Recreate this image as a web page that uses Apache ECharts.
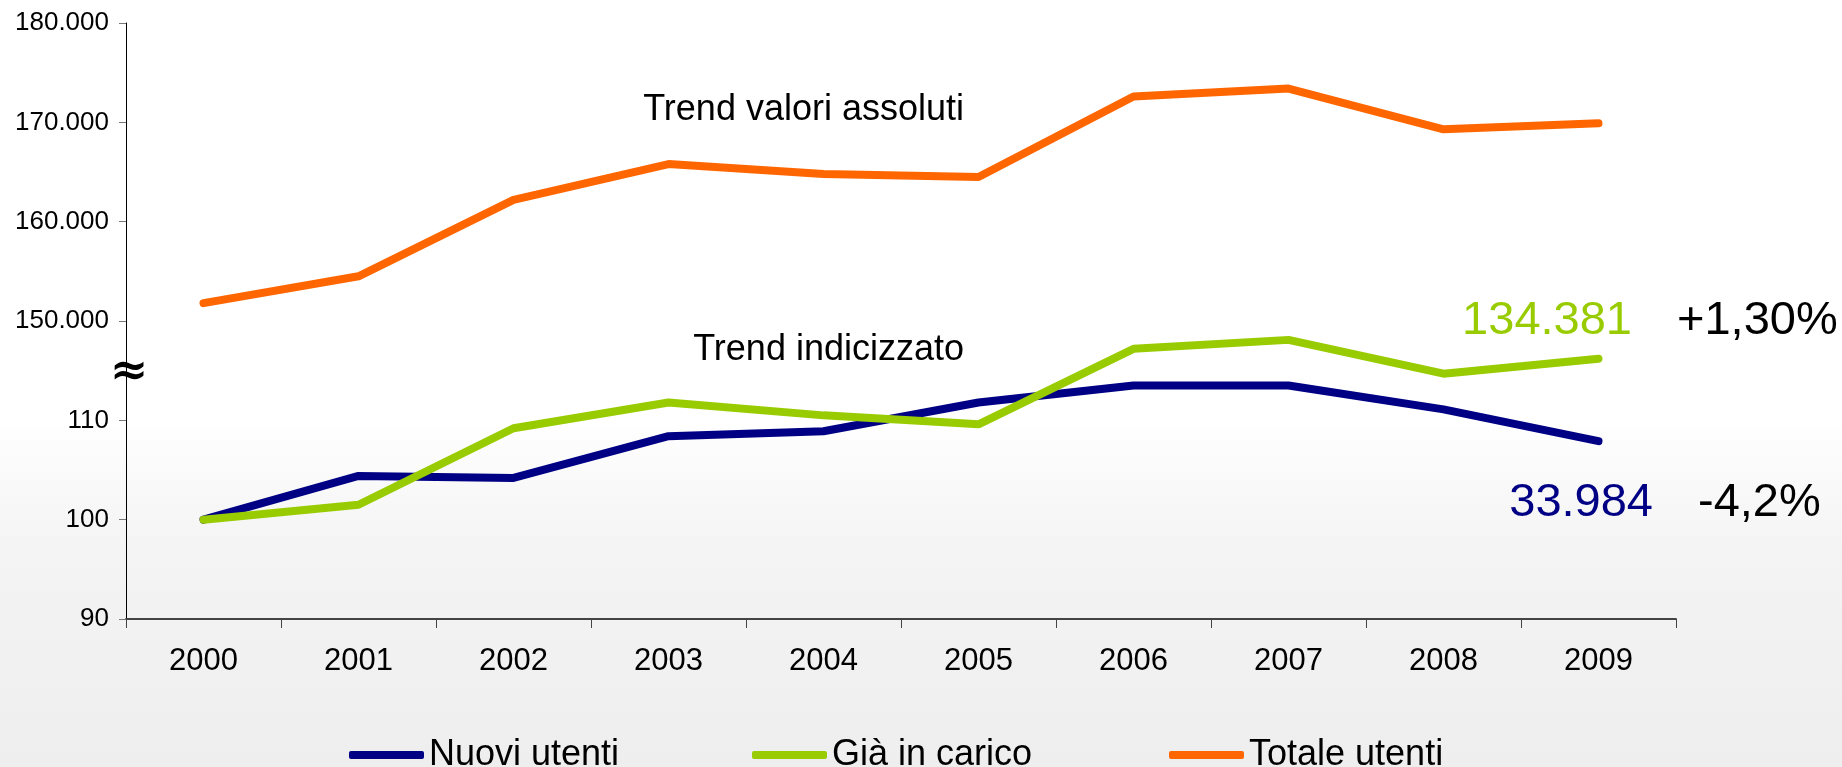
<!DOCTYPE html>
<html>
<head>
<meta charset="utf-8">
<script src="https://cdn.jsdelivr.net/npm/echarts@6/dist/echarts.min.js"></script>
<style>
  html, body { margin: 0; padding: 0; background: #ffffff; }
  #chart { width: 1842px; height: 767px; }
</style>
</head>
<body>
<div id="chart"></div>
<script>
// ---- data ----
const years = ['2000', '2001', '2002', '2003', '2004', '2005', '2006', '2007', '2008', '2009'];
// indexed trend (2000 = 100)
const nuoviUtenti = [100, 104.4, 104.2, 108.4, 108.9, 111.8, 113.5, 113.5, 111.1, 107.9];
const giaInCarico = [100, 101.5, 109.2, 111.8, 110.5, 109.6, 117.2, 118.1, 114.7, 116.2];
// absolute values (upper, broken part of the axis)
const totaleUtenti = [151800, 154500, 162200, 165800, 164800, 164500, 172600, 173400, 169300, 169900];
// axis tick labels (broken axis: lower part = index, upper part = absolute)
const yTickLabels = ['90', '100', '110', '150.000', '160.000', '170.000', '180.000'];
const seriesNames = ['Nuovi utenti', 'Già in carico', 'Totale utenti'];
const endLabels = ['134.381', '+1,30%', '33.984', '-4,2%'];
const trendLabels = ['Trend valori assoluti', 'Trend indicizzato'];

// the upper section starts at the 4th tick: 150.000 sits where index 120 would be
const AXIS_MIN = 90, AXIS_STEP = 10, BREAK_TICK = 120, BREAK_ABS = 150000, ABS_STEP = 10000;
const totalePlot = totaleUtenti.map(v => BREAK_TICK + (v - BREAK_ABS) / ABS_STEP * AXIS_STEP);

const FONT = "'Liberation Sans', Arial, sans-serif";
const NAVY = '#000085', GREEN = '#99cc00', ORANGE = '#ff6600';

const chart = echarts.init(document.getElementById('chart'), null, { renderer: 'canvas' });

function legendAt(name, left) {
  return {
    data: [name], left: left, top: 732, orient: 'horizontal',
    icon: 'roundRect', itemWidth: 75, itemHeight: 8,
    textStyle: { fontFamily: FONT, fontSize: 36, color: '#000' },
    selectedMode: false
  };
}

const option = {
  animation: false,
  backgroundColor: '#ffffff',
  grid: { left: 126, right: 166, top: 23, bottom: 148, containLabel: false },
  legend: [legendAt(seriesNames[0], 344), legendAt(seriesNames[1], 747), legendAt(seriesNames[2], 1164)],
  xAxis: {
    type: 'category', data: years, boundaryGap: true,
    axisLine: { lineStyle: { color: '#444', width: 2 } },
    axisTick: { show: true, length: 9, lineStyle: { color: '#444', width: 1 } },
    axisLabel: { fontFamily: FONT, fontSize: 31, color: '#000', margin: 27 },
    splitLine: { show: false }
  },
  yAxis: {
    type: 'value', min: AXIS_MIN, max: 150, interval: AXIS_STEP,
    axisLine: { show: true, lineStyle: { color: '#000', width: 1 } },
    axisTick: { show: true, length: 7, lineStyle: { color: '#777', width: 1 } },
    axisLabel: {
      fontFamily: FONT, fontSize: 26, color: '#000', margin: 17,
      formatter: v => yTickLabels[Math.round((v - AXIS_MIN) / AXIS_STEP)] || ''
    },
    splitLine: { show: false }
  },
  series: [
    { name: seriesNames[0], type: 'line', data: nuoviUtenti, showSymbol: false, symbol: 'none',
      color: NAVY, lineStyle: { color: NAVY, width: 8, cap: 'round' }, z: 3 },
    { name: seriesNames[1], type: 'line', data: giaInCarico, showSymbol: false, symbol: 'none',
      color: GREEN, lineStyle: { color: GREEN, width: 8, cap: 'round' }, z: 4 },
    { name: seriesNames[2], type: 'line', data: totalePlot, showSymbol: false, symbol: 'none',
      color: ORANGE, lineStyle: { color: ORANGE, width: 8, cap: 'round' }, z: 5 }
  ]
};
chart.setOption(option);

// annotations placed after layout
const axisX = chart.convertToPixel({ xAxisIndex: 0 }, 0) - 77.5;
const breakY = chart.convertToPixel({ yAxisIndex: 0 }, 115);
chart.setOption({
  graphic: [
    { type: 'rect', z: -10, silent: true,
      shape: { x: 0, y: 428, width: 1842, height: 339 },
      style: { fill: new echarts.graphic.LinearGradient(0, 0, 0, 1, [
        { offset: 0, color: '#fefefe' }, { offset: 0.35, color: '#f4f4f4' }, { offset: 1, color: '#eeeeee' }]) } },
    { type: 'text', z: 10, x: axisX + 3, y: breakY + 2,
      style: { text: '≈', font: "bold 46px 'DejaVu Serif', serif", fill: '#000',
               textAlign: 'center', textVerticalAlign: 'middle' } },
    { type: 'text', z: 10, x: 964, y: 110,
      style: { text: trendLabels[0], font: '36px ' + FONT, fill: '#000', textAlign: 'right', textVerticalAlign: 'middle' } },
    { type: 'text', z: 10, x: 964, y: 350,
      style: { text: trendLabels[1], font: '36px ' + FONT, fill: '#000', textAlign: 'right', textVerticalAlign: 'middle' } },
    { type: 'text', z: 10, x: 1632, y: 321,
      style: { text: endLabels[0], font: '47px ' + FONT, fill: GREEN, textAlign: 'right', textVerticalAlign: 'middle' } },
    { type: 'text', z: 10, x: 1677, y: 321,
      style: { text: endLabels[1], font: '47px ' + FONT, fill: '#000', textAlign: 'left', textVerticalAlign: 'middle' } },
    { type: 'text', z: 10, x: 1653, y: 503,
      style: { text: endLabels[2], font: '47px ' + FONT, fill: NAVY, textAlign: 'right', textVerticalAlign: 'middle' } },
    { type: 'text', z: 10, x: 1698, y: 503,
      style: { text: endLabels[3], font: '47px ' + FONT, fill: '#000', textAlign: 'left', textVerticalAlign: 'middle' } }
  ]
});
</script>
</body>
</html>
